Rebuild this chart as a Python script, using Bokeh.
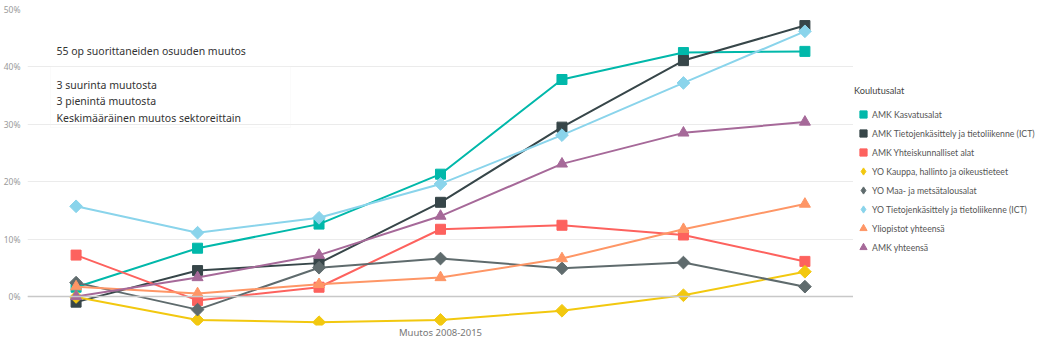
import numpy as np
from bokeh.plotting import figure
from bokeh.layouts import row
from bokeh.models import (Range1d, FixedTicker, PrintfTickFormatter, Legend, LegendItem,
                          Label, Span, BoxAnnotation)
from bokeh.embed import file_html
from bokeh.resources import INLINE

# ---- data (percent change of share) ----
years = [2009, 2010, 2011, 2012, 2013, 2014, 2015]
series_names = [
    "AMK Kasvatusalat",
    "AMK Tietojenkäsittely ja tietoliikenne (ICT)",
    "AMK Yhteiskunnalliset alat",
    "YO Kauppa, hallinto ja oikeustieteet",
    "YO Maa- ja metsätalousalat",
    "YO Tietojenkäsittely ja tietoliikenne (ICT)",
    "Yliopistot yhteensä",
    "AMK yhteensä",
]
amk_kasvatus = [1.6, 8.4, 12.6, 21.3, 37.8, 42.5, 42.7]
amk_ict = [-1.0, 4.5, 5.8, 16.4, 29.5, 41.1, 47.2]
amk_yhteis = [7.2, -0.7, 1.6, 11.7, 12.4, 10.7, 6.1]
yo_kauppa = [-0.1, -4.1, -4.5, -4.1, -2.5, 0.2, 4.3]
yo_maa = [2.4, -2.3, 5.0, 6.6, 4.9, 5.9, 1.7]
yo_ict = [15.7, 11.1, 13.7, 19.6, 28.1, 37.2, 46.2]
yo_yht = [1.7, 0.5, 2.1, 3.3, 6.6, 11.7, 16.1]
amk_yht = [0.0, 3.3, 7.2, 14.0, 23.1, 28.5, 30.4]
y_ticks = [0, 10, 20, 30, 40, 50]
x_axis_title = "Muutos 2008-2015"
legend_title = "Koulutusalat"
info_title = "55 op suorittaneiden osuuden muutos"
info_lines = ["3 suurinta muutosta", "3 pienintä muutosta", "Keskimääräinen muutos sektoreittain"]

values = [amk_kasvatus, amk_ict, amk_yhteis, yo_kauppa, yo_maa, yo_ict, yo_yht, amk_yht]
colors = ["#01B8AA", "#374649", "#FD625E", "#F2C80F", "#5F6B6D", "#8AD4EB", "#FE9666", "#A66999"]
markers = ["square", "square", "square", "square", "square", "square", "triangle", "triangle"]
legend_markers = ["square", "square", "square", "diamond", "diamond", "diamond", "triangle", "triangle"]
angles = [0, 0, 0, np.pi / 4, np.pi / 4, np.pi / 4, 0, 0]
sizes = [10, 10, 10, 9, 9, 9, 11, 11]

FONT = "Noto Sans"
LFONT = "Lato"

p = figure(width=853, height=343, output_backend="svg", toolbar_location=None,
           x_range=Range1d(2008.6, 2015.4), y_range=Range1d(-5.07, 50),
           min_border_left=27, min_border_right=0, min_border_top=9, min_border_bottom=18)
p.outline_line_color = None
p.background_fill_color = "white"
p.border_fill_color = "white"

# axes
p.yaxis.ticker = FixedTicker(ticks=y_ticks)
p.yaxis.formatter = PrintfTickFormatter(format="%d%%")
p.yaxis.axis_line_color = None
p.yaxis.major_tick_line_color = None
p.yaxis.minor_tick_line_color = None
p.yaxis.major_tick_out = 0
p.yaxis.major_tick_in = 0
p.yaxis.minor_tick_out = 0
p.yaxis.major_label_text_color = "#9a9a9a"
p.yaxis.major_label_text_font = FONT
p.yaxis.major_label_text_font_size = "8.5px"
p.yaxis.major_label_standoff = 7

p.xaxis.ticker = FixedTicker(ticks=[])
p.xaxis.axis_line_color = None
p.xaxis.major_tick_line_color = None
p.xaxis.minor_tick_line_color = None
p.xaxis.major_tick_out = 0
p.xaxis.minor_tick_out = 0
p.xaxis.axis_label = x_axis_title
p.xaxis.axis_label_text_font = FONT
p.xaxis.axis_label_text_font_style = "normal"
p.xaxis.axis_label_text_font_size = "9.5px"
p.xaxis.axis_label_text_color = "#777777"
p.xaxis.axis_label_standoff = 0

p.xgrid.grid_line_color = None
p.ygrid.grid_line_color = "#ebebeb"
p.ygrid.grid_line_width = 1

p.add_layout(Span(location=0, dimension="width", line_color="#c8c8c8", line_width=1.5))

for name, vals, c, m, a, s in zip(series_names, values, colors, markers, angles, sizes):
    p.line(years, vals, line_color=c, line_width=2)
    p.scatter(years, vals, marker=m, size=s, angle=a, fill_color=c, line_color=c)

# info box (slicer-like text)
fb = 325  # frame bottom in screen px (approx)
p.add_layout(BoxAnnotation(left=23, right=263, bottom=fb - 127, top=fb - 66,
                           left_units="screen", right_units="screen",
                           bottom_units="screen", top_units="screen",
                           fill_alpha=0, line_color="#f2f2f2", line_width=1))
p.add_layout(Label(x=29, y=fb - 50, x_units="screen", y_units="screen", text=info_title,
                   text_font=FONT, text_font_size="10.5px", text_color="#333333",
                   text_baseline="middle"))
for i, t in enumerate(info_lines):
    p.add_layout(Label(x=29, y=fb - (84 + 16.5 * i), x_units="screen", y_units="screen", text=t,
                       text_font=FONT, text_font_size="10.5px", text_color="#333333",
                       text_baseline="middle"))

# legend panel (proxy markers placed outside the visible range)
q = figure(width=187, height=343, output_backend="svg", toolbar_location=None,
           x_range=Range1d(0, 1), y_range=Range1d(0, 1),
           min_border_left=0, min_border_right=0, min_border_top=0, min_border_bottom=0)
q.axis.visible = False
q.grid.grid_line_color = None
q.outline_line_color = None
q.border_fill_color = "white"

items = []
for name, c, m in zip(series_names, colors, legend_markers):
    r = q.scatter([5], [5], marker=m, size=8, fill_color=c, line_color=c)
    items.append(LegendItem(label=name, renderers=[r]))

legend = Legend(items=items, title=legend_title, location=(1, 69),
                background_fill_alpha=0, border_line_color=None, padding=0, margin=0,
                glyph_width=18, glyph_height=18, label_height=12, spacing=1,
                label_standoff=0, title_standoff=9,
                label_text_font=LFONT, label_text_font_size="8.7px", label_text_color="#555555",
                title_text_font=LFONT, title_text_font_size="9.2px", title_text_color="#444444",
                title_text_font_style="normal")
q.add_layout(legend, "center")

layout = row(p, q, spacing=0)
open("out.html", "w").write(file_html(layout, INLINE))
